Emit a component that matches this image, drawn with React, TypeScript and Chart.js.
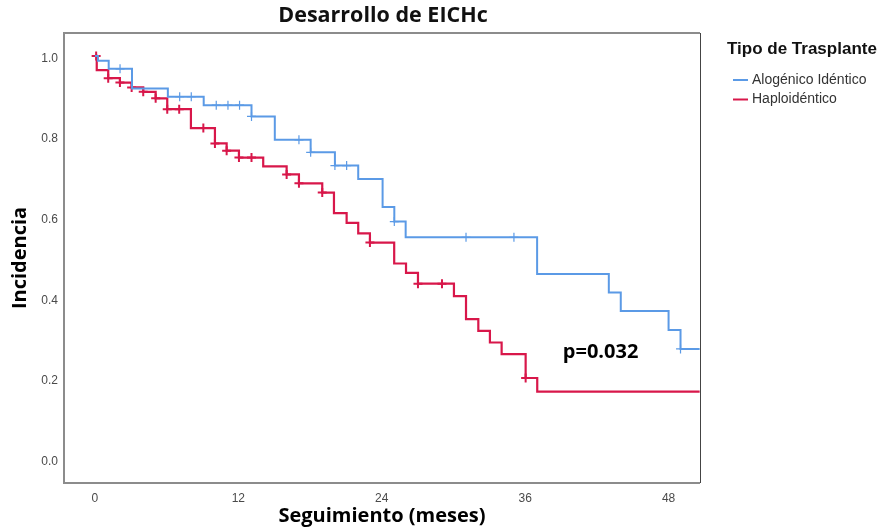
import React, { useEffect, useRef } from "react";
import { Chart, registerables } from "chart.js";

Chart.register(...registerables);

// ---- Data ----
const xTicks = [0, 12, 24, 36, 48];
const yTicks = [0, 0.2, 0.4, 0.6, 0.8, 1.0];

const seriesLabels = ["Alogénico Idéntico", "Haploidéntico"];

// Alogénico Idéntico: step times (months) and incidence level after each step
const blueTimes = [0, 0.25, 1.15, 3.1, 6.1, 9.1, 13.1, 15.05, 18.05, 20.08, 22.03, 24.07, 25.05, 26.0, 37.0, 43.0, 44.0, 48.0, 49.0, 50.6];
const blueValues = [1.0, 0.988, 0.968, 0.919, 0.899, 0.878, 0.85, 0.792, 0.761, 0.728, 0.695, 0.625, 0.589, 0.55, 0.459, 0.413, 0.367, 0.32, 0.273, 0.273];
const blueCensorTimes = [2.1, 7.09, 8.06, 10.15, 11.13, 12.1, 13.1, 17.07, 18.05, 20.08, 21.06, 25.05, 31.05, 35.06, 49.0];
const blueCensorValues = [0.968, 0.899, 0.899, 0.878, 0.878, 0.878, 0.85, 0.792, 0.761, 0.728, 0.728, 0.589, 0.55, 0.55, 0.273];

// Haploidéntico
const redTimes = [0, 0.15, 1.11, 2.09, 3.07, 4.04, 5.08, 6.05, 8.03, 10.04, 11.02, 12.05, 14.08, 16.04, 17.07, 19.02, 20.0, 21.06, 22.03, 23.01, 25.04, 26.03, 27.03, 30.04, 31.05, 32.08, 33.05, 34.03, 36.04, 37.01, 50.6];
const redValues = [1.0, 0.965, 0.945, 0.934, 0.922, 0.911, 0.895, 0.868, 0.821, 0.783, 0.765, 0.748, 0.726, 0.706, 0.684, 0.661, 0.61, 0.586, 0.56, 0.537, 0.485, 0.462, 0.435, 0.404, 0.347, 0.318, 0.289, 0.26, 0.201, 0.167, 0.167];
const redCensorTimes = [0.1, 1.11, 2.09, 3.07, 4.04, 5.08, 6.05, 7.05, 9.07, 10.04, 11.02, 12.05, 13.1, 16.04, 17.07, 19.02, 23.01, 27.03, 29.04, 36.04];
const redCensorValues = [1.0, 0.945, 0.934, 0.922, 0.911, 0.895, 0.868, 0.868, 0.821, 0.783, 0.765, 0.748, 0.748, 0.706, 0.684, 0.661, 0.537, 0.435, 0.435, 0.201];

const pValueText = "p=0.032";
const pValueX = 39.15;
const pValueY = 0.265;

// ---- Styles ----
const BLUE = "#5b9ae6";
const RED = "#d8174a";
const X_MIN = -2.59;
const X_MAX = 50.63;
const Y_MIN = -0.0596;
const Y_MAX = 1.057;

const toPts = (xs: number[], ys: number[]) => xs.map((x, i) => ({ x, y: ys[i] }));

const overlayPlugin = {
  id: "overlay",
  afterDraw(chart: any) {
    const { ctx, chartArea: ca, scales } = chart;
    ctx.save();
    // frame
    ctx.strokeStyle = "#8c8c8c";
    ctx.lineWidth = 2;
    ctx.beginPath();
    ctx.moveTo(ca.right, ca.top);
    ctx.lineTo(ca.left, ca.top);
    ctx.lineTo(ca.left, ca.bottom);
    ctx.lineTo(ca.right, ca.bottom);
    ctx.stroke();
    ctx.strokeStyle = "#444";
    ctx.lineWidth = 1;
    ctx.beginPath();
    ctx.moveTo(ca.right + 0.5, ca.top);
    ctx.lineTo(ca.right + 0.5, ca.bottom);
    ctx.stroke();

    // title
    ctx.fillStyle = "#111";
    ctx.font = "bold 21.5px 'Open Sans'";
    ctx.textAlign = "center";
    ctx.textBaseline = "middle";
    ctx.fillText("Desarrollo de EICHc", (ca.left + ca.right) / 2 + 1, 16);

    // p-value
    ctx.font = "bold 20px 'Open Sans'";
    ctx.textAlign = "left";
    ctx.fillStyle = "#000";
    ctx.fillText(pValueText, scales.x.getPixelForValue(pValueX), scales.y.getPixelForValue(pValueY));

    // legend
    const lx = ca.right + 27;
    ctx.font = "bold 17px 'Liberation Sans'";
    ctx.fillStyle = "#111";
    ctx.fillText("Tipo de Trasplante", lx, 49);
    const colors = [BLUE, RED];
    seriesLabels.forEach((lab, i) => {
      const y = 80 + i * 19.5;
      ctx.strokeStyle = colors[i];
      ctx.lineWidth = 2;
      ctx.beginPath();
      ctx.moveTo(lx + 6, y);
      ctx.lineTo(lx + 21, y);
      ctx.stroke();
      ctx.font = "14px 'Liberation Sans'";
      ctx.fillStyle = "#333";
      ctx.fillText(lab, lx + 25, y);
    });
    ctx.restore();
  },
};

export default function App() {
  const ref = useRef<HTMLCanvasElement | null>(null);

  useEffect(() => {
    document.body.style.margin = "0";
    if (!ref.current) return;
    const tickFont = { family: "'Liberation Sans'", size: 12 };
    const chart = new Chart(ref.current, {
      type: "line",
      data: {
        datasets: [
          {
            label: seriesLabels[0],
            data: toPts(blueTimes, blueValues),
            borderColor: BLUE,
            borderWidth: 2,
            stepped: true,
            pointRadius: 0,
            fill: false,
          },
          {
            label: seriesLabels[1],
            data: toPts(redTimes, redValues),
            borderColor: RED,
            borderWidth: 2.2,
            stepped: true,
            pointRadius: 0,
            fill: false,
          },
          {
            type: "scatter",
            label: "c1",
            data: toPts(blueCensorTimes, blueCensorValues),
            pointStyle: "cross",
            pointRadius: 4.5,
            borderColor: BLUE,
            borderWidth: 1.2,
            showLine: false,
          },
          {
            type: "scatter",
            label: "c2",
            data: toPts(redCensorTimes, redCensorValues),
            pointStyle: "cross",
            pointRadius: 4.5,
            borderColor: RED,
            borderWidth: 2,
            showLine: false,
          },
        ] as any,
      },
      options: {
        animation: false,
        responsive: false,
        layout: { padding: { top: 33, right: 186, left: 0, bottom: 0 } },
        plugins: {
          legend: { display: false },
          title: { display: false },
          tooltip: { enabled: false },
        },
        scales: {
          x: {
            type: "linear",
            min: X_MIN,
            max: X_MAX,
            grid: { display: false, drawTicks: false },
            border: { display: false },
            ticks: { font: tickFont, color: "#4a4a4a", padding: 8, maxRotation: 0, autoSkip: false, callback: (v: any) => String(v) },
            afterBuildTicks: (s: any) => {
              s.ticks = xTicks.map((v) => ({ value: v }));
            },
            afterFit: (s: any) => {
              s.height = 46;
            },
            title: {
              display: true,
              text: "Seguimiento (meses)",
              color: "#000",
              font: { family: "'Open Sans'", size: 20, weight: "bold" },
              padding: { top: 0, bottom: 1 },
            },
          },
          y: {
            type: "linear",
            min: Y_MIN,
            max: Y_MAX,
            grid: { display: false, drawTicks: false },
            border: { display: false },
            ticks: { font: tickFont, color: "#4a4a4a", padding: 6, labelOffset: 2.5, autoSkip: false, callback: (v: any) => Number(v).toFixed(1) },
            afterBuildTicks: (s: any) => {
              s.ticks = yTicks.map((v) => ({ value: v }));
            },
            afterFit: (s: any) => {
              s.width = 64;
            },
            title: {
              display: true,
              text: "Incidencia",
              color: "#000",
              font: { family: "'Open Sans'", size: 20, weight: "bold" },
              padding: { top: 8, bottom: 0 },
            },
          },
        },
      } as any,
      plugins: [overlayPlugin],
    });
    return () => chart.destroy();
  }, []);

  return (
    <div style={{ width: 886, height: 529 }}>
      <canvas ref={ref} width={886} height={529} style={{ display: "block" }} />
    </div>
  );
}
